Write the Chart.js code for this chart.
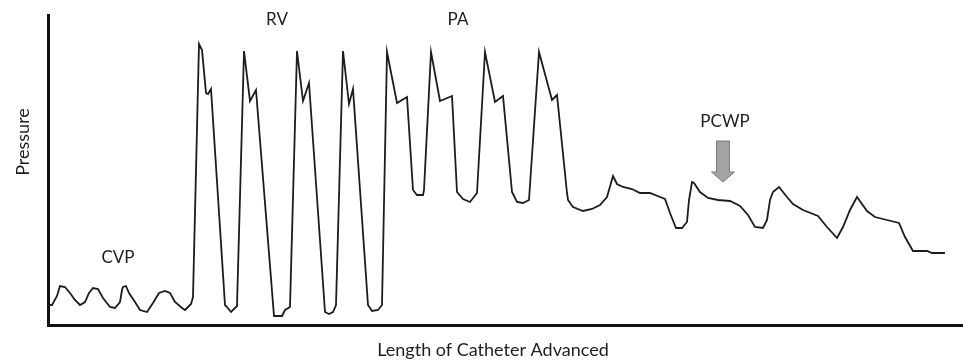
<!DOCTYPE html>
<html lang="en">
<head>
<meta charset="UTF-8">
<title>Pressure vs Length of Catheter Advanced</title>
<script src="https://cdn.jsdelivr.net/npm/chart.js"></script>
<style>
    html, body {
        margin: 0;
        padding: 0;
        background: #ffffff;
    }
    canvas {
        display: block;
    }
</style>
</head>
<body>
<canvas id="traceChart" width="963" height="360"></canvas>
<script>
// Pressure trace while the catheter is advanced: [position, pressure]
const cvpTrace = [
    [0, 20], [4, 20], [9, 29], [12, 39], [17, 38], [22, 32], [27, 25], [32, 20],
    [37, 23], [41, 32], [45, 37], [50, 36], [55, 27], [62, 18], [67, 17], [72, 23],
    [74, 35], [75, 38], [78, 39], [81, 32], [87, 23], [92, 15], [99, 13], [105, 22],
    [111, 32], [117, 34], [122, 32], [127, 23], [134, 17], [137, 15], [140, 18],
    [143, 21], [145, 28]
];
const rvTrace = [
    [151, 281], [154, 275], [158, 232], [160, 231], [163, 236], [177, 20], [179, 18], [183, 13], [189, 19],
    [196, 274], [202, 224], [208, 235], [226, 9], [234, 9], [237, 15], [242, 18],
    [249, 274], [255, 224], [261, 242], [277, 13], [281, 11], [285, 13], [288, 20],
    [295, 274], [301, 221], [305, 236], [320, 20], [324, 14], [330, 15], [334, 20]
];
const paTrace = [
    [339, 273], [349, 222], [359, 228], [365, 135], [369, 130], [375, 130], [376, 135],
    [383, 273], [392, 224], [404, 229], [409, 133], [415, 126], [422, 123], [429, 132],
    [437, 273], [447, 223], [455, 229], [464, 133], [469, 123], [475, 122], [481, 125],
    [491, 273], [504, 225], [509, 230], [519, 132], [520, 125], [525, 118], [535, 114],
    [544, 116], [552, 120], [559, 128]
];
const pcwpTrace = [
    [565, 149], [569, 141], [575, 138], [584, 136], [592, 132], [602, 132], [612, 128],
    [617, 126], [622, 112], [628, 97], [634, 97], [639, 103], [641, 125], [644, 143],
    [646, 142], [652, 133], [660, 127], [670, 125], [682, 124], [692, 119], [700, 110],
    [707, 98], [715, 97], [719, 105], [722, 125], [725, 133], [731, 138], [739, 128],
    [745, 121], [755, 115], [770, 109], [779, 98], [789, 87], [795, 98], [802, 115],
    [809, 128], [819, 114], [827, 108], [839, 105], [851, 102], [857, 88], [865, 74],
    [879, 74], [884, 72], [897, 72]
];

// Region names and where they sit (position, pressure)
const regionLabels = ['CVP', 'RV', 'PA', 'PCWP'];
const regionLabelX = [70, 229, 410, 677];
const regionLabelY = [67, 305, 305, 203];

// Axis titles
const xTitle = 'Length of Catheter Advanced';
const yTitle = 'Pressure';
const xTitleAt = 445;
const yTitleAt = 183;

// Arrow pointing at the wedge trace
const arrowX = 675;
const arrowTop = 184;
const arrowTip = 143;

const traceData = cvpTrace.concat(rvTrace, paTrace, pcwpTrace)
    .map(p => ({ x: p[0], y: p[1] }));

const textFont = 'Lato, "Open Sans", sans-serif';

// Text labels, axis titles and the arrow, placed through the chart scales
const annotations = {
    id: 'annotations',
    afterDatasetsDraw(chart) {
        const { ctx, scales, chartArea } = chart;
        ctx.save();
        ctx.fillStyle = '#1e1e1e';
        ctx.textAlign = 'center';
        ctx.textBaseline = 'middle';

        ctx.font = '17px ' + textFont;
        regionLabels.forEach((text, i) => {
            ctx.fillText(text,
                scales.x.getPixelForValue(regionLabelX[i]),
                scales.y.getPixelForValue(regionLabelY[i]));
        });

        ctx.font = '18px ' + textFont;
        ctx.fillText(xTitle, scales.x.getPixelForValue(xTitleAt), chartArea.bottom + 25);
        ctx.save();
        ctx.translate(chartArea.left - 25, scales.y.getPixelForValue(yTitleAt));
        ctx.rotate(-Math.PI / 2);
        ctx.fillText(yTitle, 0, 0);
        ctx.restore();

        const ax = scales.x.getPixelForValue(arrowX);
        const top = scales.y.getPixelForValue(arrowTop);
        const tip = scales.y.getPixelForValue(arrowTip);
        const headLen = 10;
        ctx.beginPath();
        ctx.moveTo(ax - 6.5, top);
        ctx.lineTo(ax + 6.5, top);
        ctx.lineTo(ax + 6.5, tip - headLen);
        ctx.lineTo(ax + 11.5, tip - headLen);
        ctx.lineTo(ax, tip);
        ctx.lineTo(ax - 11.5, tip - headLen);
        ctx.lineTo(ax - 6.5, tip - headLen);
        ctx.closePath();
        ctx.fillStyle = '#a3a3a3';
        ctx.fill();
        ctx.strokeStyle = '#7a7a7a';
        ctx.lineWidth = 1;
        ctx.stroke();
        ctx.restore();
    }
};

new Chart(document.getElementById('traceChart'), {
    type: 'scatter',
    data: {
        datasets: [{
            data: traceData,
            showLine: true,
            borderColor: '#1c1c1c',
            borderWidth: 1.8,
            pointRadius: 0,
            tension: 0
        }]
    },
    options: {
        responsive: false,
        animation: false,
        layout: {
            padding: { top: 15, right: 0, bottom: 35, left: 48 }
        },
        plugins: {
            legend: { display: false },
            tooltip: { enabled: false }
        },
        scales: {
            x: {
                type: 'linear',
                min: 0,
                max: 915,
                grid: { display: false, drawTicks: false },
                ticks: { display: false },
                border: { display: true, color: '#111111', width: 3 }
            },
            y: {
                min: 0,
                max: 310,
                grid: { display: false, drawTicks: false },
                ticks: { display: false },
                border: { display: true, color: '#111111', width: 3 }
            }
        }
    },
    plugins: [annotations]
});
</script>
</body>
</html>
